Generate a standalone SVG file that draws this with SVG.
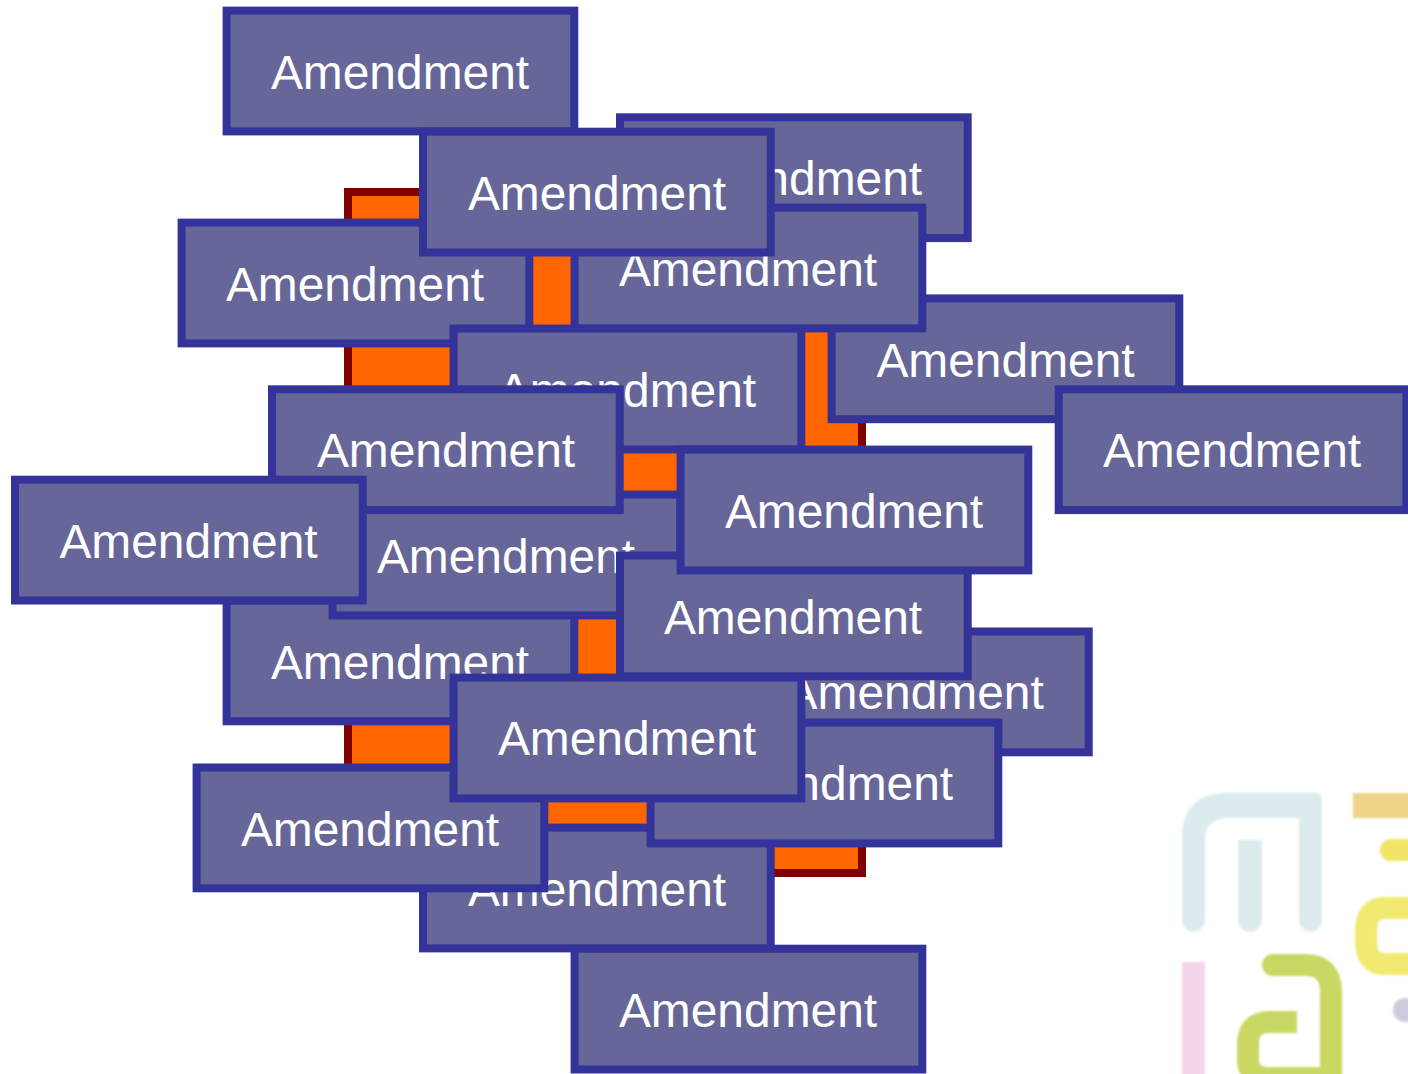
<svg xmlns="http://www.w3.org/2000/svg" width="1408" height="1074" viewBox="0 0 1408 1074">
<style>
.box{fill:#666699;stroke:#333399;stroke-width:8}
.lbl{font-family:"Liberation Sans",Arial,sans-serif;font-size:47.9px;fill:#fff;text-anchor:middle}
.s{fill:none;stroke-width:22;stroke-linecap:round}
</style>
<defs><filter id="soft" x="-5%" y="-5%" width="110%" height="110%"><feGaussianBlur stdDeviation="1"/></filter></defs>
<rect width="1408" height="1074" fill="#fff"/>
<g id="logo" filter="url(#soft)">
<path fill="#dcecee" d="M1182 920V838Q1182 793 1228 793H1315Q1322 793 1322 800V920A11.5 11.5 0 0 1 1299 920V818H1230Q1205 818 1205 840V920A11.5 11.5 0 0 1 1182 920Z"/>
<path fill="#dcecee" d="M1238 840H1262V920A12 12 0 0 1 1238 920Z"/>
<rect x="1353" y="793" width="70" height="25" fill="#eed388"/>
<path class="s" stroke="#f0e566" d="M1391 850H1425"/>
<path class="s" stroke="#f0ea70" d="M1425 908H1385Q1366 908 1366 930V942Q1366 964 1385 964H1425"/>
<rect x="1182" y="962" width="23" height="130" fill="#f5d5ea"/>
<path class="s" stroke="#c8d862" d="M1273 965H1305Q1331 965 1331 992V1090"/>
<path class="s" stroke="#c8d862" style="stroke-linecap:butt" d="M1297 1022H1270Q1248 1022 1248 1044V1060Q1248 1078 1270 1078H1331"/>
<circle cx="1405" cy="1010" r="12" fill="#ccccdd"/>
</g>
<g id="backdrop"><rect x="348" y="192" width="514" height="681" fill="#ff6600" stroke="#800000" stroke-width="8"/></g>
<g id="connectors"/>
<g id="n1"><rect class="box" x="226.6" y="10.6" width="347.7" height="120.8"/><text class="lbl" x="400" y="89">Amendment</text></g>
<g id="n2"><rect class="box" x="620" y="117.3" width="347.7" height="120.8"/><text class="lbl" x="793" y="195">Amendment</text></g>
<g id="n3"><rect class="box" x="181.6" y="222.6" width="347.7" height="120.8"/><text class="lbl" x="355" y="301">Amendment</text></g>
<g id="n4"><rect class="box" x="831.6" y="298.4" width="347.7" height="120.8"/><text class="lbl" x="1005.5" y="377">Amendment</text></g>
<g id="n5"><rect class="box" x="1058.7" y="389.3" width="347.7" height="120.8"/><text class="lbl" x="1232" y="467">Amendment</text></g>
<g id="n6"><rect class="box" x="226.6" y="600.5" width="347.7" height="120.8"/><text class="lbl" x="400" y="679">Amendment</text></g>
<g id="n7"><rect class="box" x="332.6" y="494.6" width="347.7" height="120.8"/><text class="lbl" x="506" y="573">Amendment</text></g>
<g id="n8"><rect class="box" x="741" y="631.5" width="347.7" height="120.8"/><text class="lbl" x="914.7" y="709">Amendment</text></g>
<g id="n9"><rect class="box" x="423" y="827.6" width="347.7" height="120.8"/><text class="lbl" x="597" y="906">Amendment</text></g>
<g id="n10"><rect class="box" x="196.6" y="767.5" width="347.7" height="120.8"/><text class="lbl" x="370" y="846">Amendment</text></g>
<g id="n11"><rect class="box" x="574.6" y="948.7" width="347.7" height="120.8"/><text class="lbl" x="748" y="1027">Amendment</text></g>
<g id="n12"><rect class="box" x="650.6" y="722.6" width="347.7" height="120.8"/><text class="lbl" x="824" y="800">Amendment</text></g>
<g id="n13"><rect class="box" x="574.6" y="207.6" width="347.7" height="120.8"/><text class="lbl" x="748" y="286">Amendment</text></g>
<g id="n14"><rect class="box" x="423" y="131.7" width="347.7" height="120.8"/><text class="lbl" x="597" y="210">Amendment</text></g>
<g id="n15"><rect class="box" x="453.6" y="328.6" width="347.7" height="120.8"/><text class="lbl" x="627" y="407">Amendment</text></g>
<g id="n16"><rect class="box" x="272" y="389.3" width="347.7" height="120.8"/><text class="lbl" x="446" y="467">Amendment</text></g>
<g id="n17"><rect class="box" x="15" y="479.7" width="347.7" height="120.8"/><text class="lbl" x="188.5" y="558">Amendment</text></g>
<g id="n18"><rect class="box" x="620" y="555.5" width="347.7" height="120.8"/><text class="lbl" x="793" y="634">Amendment</text></g>
<g id="n19"><rect class="box" x="680.6" y="449.6" width="347.7" height="120.8"/><text class="lbl" x="854" y="528">Amendment</text></g>
<g id="n20"><rect class="box" x="453.6" y="677.6" width="347.7" height="120.8"/><text class="lbl" x="627" y="755">Amendment</text></g>
</svg>
